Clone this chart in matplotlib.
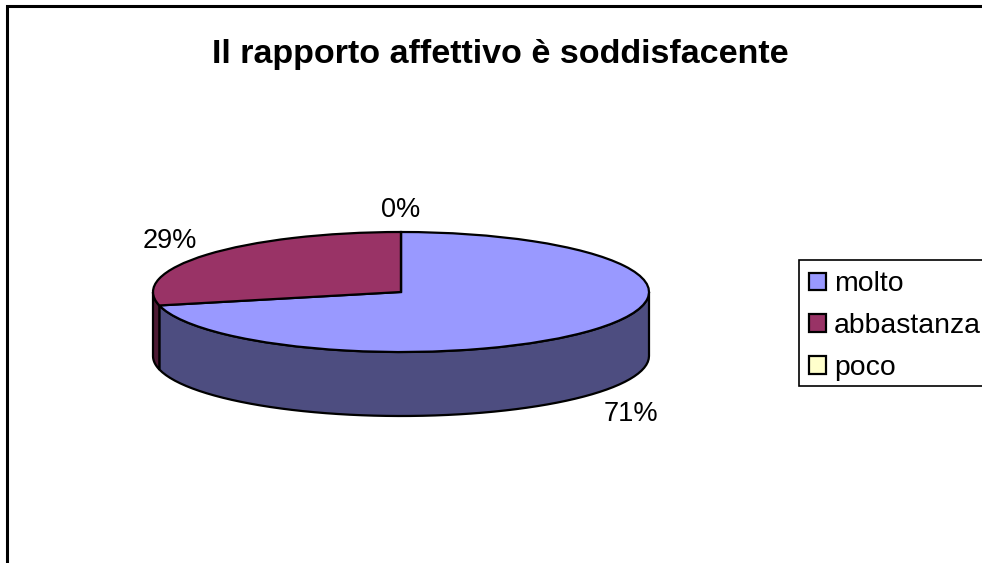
import numpy as np
from matplotlib import pyplot as plt
from matplotlib.patches import Polygon, Rectangle

plt.rcParams['font.family'] = ['Liberation Sans', 'DejaVu Sans']

title = 'Il rapporto affettivo è soddisfacente'
categories = ['molto', 'abbastanza', 'poco']
shares = [71.4, 28.6, 0.0]
top_colors = ['#9999ff', '#993366', '#ffffcc']
side_colors = ['#4d4d80', '#4d1a33', '#80805f']

W, H = 982, 563
CX, CY = 401, 292
RX, RY = 248, 60
DEPTH = 64 / RY


def side_polygon(a0, a1):
    # wall under the visible (front) part of a slice, angles in degrees
    t = np.radians(np.linspace(a0, a1, 60))
    x, y = np.cos(t), np.sin(t)
    return np.column_stack([np.r_[x, x[::-1]], np.r_[y, y[::-1] - DEPTH]])


def main():
    fig = plt.figure(figsize=(W / 100, H / 100), dpi=100)
    ax = fig.add_axes([0, 0, 1, 1])

    wedges, _ = ax.pie(shares, colors=top_colors, startangle=90, counterclock=False,
                       wedgeprops={'edgecolor': 'black', 'linewidth': 1.6, 'zorder': 3})
    ax.set_aspect('auto')
    ax.set_xlim(-CX / RX, (W - CX) / RX)
    ax.set_ylim((CY - H) / RY, CY / RY)

    # walls of the slices, walking clockwise from the top
    start = 90.0
    total = sum(shares)
    for share, col in zip(shares, side_colors):
        end = start - share / total * 360
        # only the lower half of the ellipse shows a wall
        lo, hi = max(end, -180), min(start, 0)
        if hi > lo:
            ax.add_patch(Polygon(side_polygon(lo, hi), closed=True, facecolor=col,
                                 edgecolor='black', linewidth=1.6, zorder=2))
        start = end

    # percent labels, placed by hand like the original
    label_pos = [(631, 414), (170, 241), (401, 210)]
    for share, (px, py) in zip(shares, label_pos):
        ax.text((px - CX) / RX, (CY - py) / RY, '{:.0f}%'.format(share), fontsize=19.5,
                ha='center', va='center', color='black')

    fig.text(500 / W, 1 - 54 / H, title, fontsize=24.5, fontweight='bold',
             ha='center', va='center', color='black')

    # legend box is drawn apart, it is a little tighter than the legend's own frame
    fig.add_artist(Rectangle((799 / W, 1 - 386 / H), 0.3, 126 / H, transform=fig.transFigure,
                             facecolor='white', edgecolor='black', linewidth=1.2))
    ax.legend(wedges, categories, loc='upper left', bbox_to_anchor=(800 / W, 1 - 262 / H),
              bbox_transform=fig.transFigure, fontsize=20.4, frameon=False,
              borderaxespad=0, borderpad=0.33, handlelength=0.58, handleheight=0.58,
              handletextpad=0.29, labelspacing=0.56).set_zorder(5)
    ax.set_zorder(4)
    ax.patch.set_visible(False)

    # chart frame runs off the right and bottom of the picture
    fig.add_artist(Rectangle((7 / W, -0.1), 1.1, 1.1 - 6 / H, transform=fig.transFigure,
                             fill=False, edgecolor='black', linewidth=2.2))

    fig.savefig('out.png', dpi=100)


if __name__ == '__main__':
    main()
